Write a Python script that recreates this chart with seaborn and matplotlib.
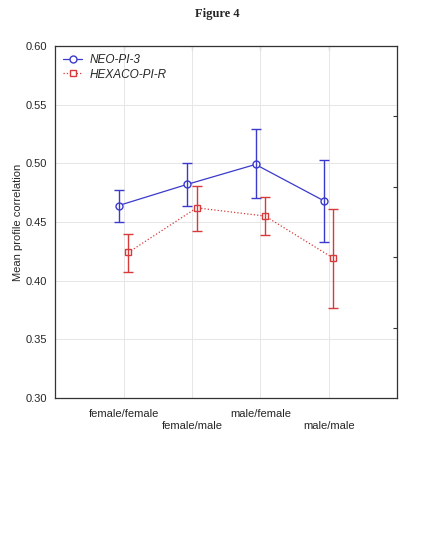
import numpy as np
import pandas as pd
import matplotlib
matplotlib.use('Agg')
import matplotlib.pyplot as plt
import seaborn as sns

# Data (mean profile correlation with CI bounds)
groups = ['female/female', 'female/male', 'male/female', 'male/male']
neo_mean = [0.464, 0.482, 0.499, 0.468]
neo_low = [0.450, 0.464, 0.470, 0.433]
neo_high = [0.477, 0.500, 0.529, 0.503]
hex_mean = [0.424, 0.462, 0.455, 0.419]
hex_low = [0.407, 0.442, 0.439, 0.377]
hex_high = [0.440, 0.481, 0.471, 0.461]

sns.set_style("whitegrid")
plt.rcParams['font.family'] = ['Liberation Sans', 'DejaVu Sans']

fig = plt.figure(figsize=(4.34, 5.40), dpi=100)
ax = fig.add_axes([0.127, 0.263, 0.788, 0.652])

xs = np.arange(1, len(groups) + 1)
series = [
    ('NEO-PI-3', neo_mean, neo_low, neo_high, '#3a3acc', 'o', '-', -0.07),
    ('HEXACO-PI-R', hex_mean, hex_low, hex_high, '#d83a3a', 's', ':', 0.07),
]

for name, m, lo, hi, col, mk, ls, off in series:
    m = np.array(m); lo = np.array(lo); hi = np.array(hi)
    df = pd.DataFrame({'x': xs + off, 'y': m})
    sns.lineplot(data=df, x='x', y='y', ax=ax, color=col, lw=0.9,
                 linestyle=ls, marker=mk, markersize=5,
                 markerfacecolor='white', markeredgecolor=col,
                 markeredgewidth=1.0, label=name)
    ax.errorbar(xs + off, m, yerr=[m - lo, hi - m], fmt='none',
                ecolor=col, elinewidth=1.0, capsize=3.5, capthick=1.0)

ax.set_xlim(0, 5)
ax.set_ylim(0.30, 0.60)
ax.set_yticks(np.arange(0.30, 0.601, 0.05))
ax.set_yticklabels([f'{v:.2f}' for v in np.arange(0.30, 0.601, 0.05)], fontsize=8)
ax.set_xticks(xs)
ax.set_xticklabels([g if i % 2 == 0 else '\n' + g for i, g in enumerate(groups)],
                   fontsize=8)
ax.set_xlabel('')
ax.set_ylabel('Mean profile correlation', fontsize=8, labelpad=2)
ax.grid(True, color='#e6e6e6', lw=0.7)
for s in ax.spines.values():
    s.set_color('#333333')
    s.set_linewidth(0.9)
ax.tick_params(axis='y', length=3, color='#333333', direction='out', pad=3)
ax.tick_params(axis='x', length=2, color='#333333', direction='in', pad=8)

# small inward ticks on the right and top, as in the original
sec = ax.secondary_yaxis('right')
sec.set_yticks([0.36, 0.42, 0.48, 0.54])
sec.set_yticklabels([])
sec.tick_params(direction='in', length=3, color='#333333')
top = ax.secondary_xaxis('top')
top.set_xticks(xs)
top.set_xticklabels([])
top.tick_params(direction='in', length=3, color='#333333')

leg = ax.legend(loc='upper left', frameon=False, fontsize=8.5,
                handlelength=1.6, borderaxespad=0.3, labelspacing=0.2,
                handletextpad=0.6)
for t in leg.get_texts():
    t.set_fontstyle('italic')

fig.text(0.5, 0.975, 'Figure 4', ha='center', va='center', fontsize=9,
         fontweight='bold', family=['Liberation Serif', 'DejaVu Serif'])

fig.savefig('out.png', dpi=100)
